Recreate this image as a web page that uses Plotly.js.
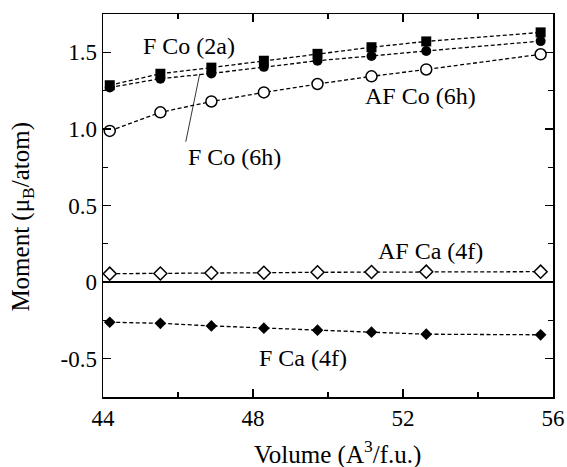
<!DOCTYPE html>
<html>
<head>
<meta charset="utf-8">
<script src="https://cdn.plot.ly/plotly-3.0.1.min.js"></script>
<style>html,body{margin:0;padding:0;background:#fff;}#chart{width:567px;height:467px;}</style>
</head>
<body>
<div id="chart"></div>
<script>
const volume = [44.18, 45.53, 46.89, 48.29, 49.72, 51.16, 52.62, 55.67];
const fCo2a  = [1.285, 1.36, 1.40, 1.445, 1.49, 1.533, 1.571, 1.63];
const fCo6h  = [1.27, 1.328, 1.362, 1.405, 1.445, 1.476, 1.509, 1.573];
const afCo6h = [0.987, 1.108, 1.179, 1.238, 1.293, 1.343, 1.388, 1.487];
const afCa4f = [0.055, 0.056, 0.059, 0.061, 0.064, 0.066, 0.068, 0.068];
const fCa4f  = [-0.262, -0.269, -0.286, -0.301, -0.314, -0.327, -0.34, -0.344];
const yTickVals = [-0.5, 0, 0.5, 1.0, 1.5];
const yTickText = ['-0.5', '0', '0.5', '1.0', '1.5'];
const xTickVals = [44, 48, 52, 56];
const xTickText = ['44', '48', '52', '56'];

const lineStyle = {color: '#000', width: 1.3, dash: '4px,2.5px'};
function tr(y, sym, size, open) {
  return {
    x: volume, y: y, type: 'scatter', mode: 'lines+markers',
    line: lineStyle,
    marker: {symbol: sym, size: size, color: open ? '#fff' : '#000',
             line: {color: '#000', width: open ? 1.5 : 0}},
    showlegend: false, cliponaxis: false
  };
}
const data = [
  tr(afCo6h, 'circle', 11, true),
  tr(fCo6h, 'circle', 10, false),
  tr(fCo2a, 'square', 10, false),
  tr(afCa4f, 'diamond', 10, true),
  tr(fCa4f, 'diamond', 9, false)
];
const fam = '"Liberation Serif", "Times New Roman", serif';
const font = {family: fam, color: '#000', size: 24};
const layout = {
  width: 567, height: 467,
  margin: {l: 103, r: 14, t: 14, b: 70},
  paper_bgcolor: '#fff', plot_bgcolor: '#fff',
  font: {family: fam, color: '#000', size: 23},
  xaxis: {
    range: [44, 56], tickmode: 'array', tickvals: xTickVals, ticktext: xTickText,
    ticks: 'inside', ticklen: 8, tickwidth: 1.2, tickcolor: '#000',
    minor: {tickmode: 'linear', tick0: 44, dtick: 2, ticks: 'inside', ticklen: 5, tickwidth: 1.2, tickcolor: '#000'},
    showline: true, linecolor: '#000', linewidth: 1.5, mirror: 'ticks',
    showgrid: false, zeroline: false,
    tickfont: {size: 23}
  },
  yaxis: {
    range: [-0.75, 1.75], tickmode: 'array', tickvals: yTickVals, ticktext: yTickText,
    ticks: 'inside', ticklen: 8, tickwidth: 1.2, tickcolor: '#000',
    minor: {tickmode: 'linear', tick0: -0.75, dtick: 0.25, ticks: 'inside', ticklen: 5, tickwidth: 1.2, tickcolor: '#000'},
    showline: true, linecolor: '#000', linewidth: 1.5, mirror: 'ticks',
    showgrid: false, zeroline: true, zerolinecolor: '#000', zerolinewidth: 1.8,
    tickfont: {size: 23}
  },
  annotations: [
    {xref: 'paper', yref: 'paper', x: 0.52, y: -0.145, text: 'Volume (A<sup>3</sup>/f.u.)',
     showarrow: false, xanchor: 'center', yanchor: 'middle', font: {family: fam, color: '#000', size: 25}},
    {xref: 'paper', yref: 'paper', x: -0.178, y: 0.4707, text: 'Moment (μ<sub>B</sub>/atom)', textangle: -90,
     showarrow: false, xanchor: 'center', yanchor: 'middle', font: {family: fam, color: '#000', size: 25}},
    {x: 46.3, y: 1.544, text: 'F Co (2a)', showarrow: false, font: font},
    {x: 52.47, y: 1.214, text: 'AF Co (6h)', showarrow: false, font: font},
    {x: 52.74, y: 0.206, text: 'AF Ca (4f)', showarrow: false, font: font},
    {x: 49.33, y: -0.495, text: 'F Ca (4f)', showarrow: false, font: font},
    {x: 46.58, y: 1.36, text: 'F Co (6h)', showarrow: true, arrowhead: 0, arrowwidth: 0.8,
     arrowcolor: '#000', ax: -14, ay: 68, xanchor: 'left', yanchor: 'top', font: font}
  ]
};
Plotly.newPlot('chart', data, layout, {displayModeBar: false, staticPlot: true});
</script>
</body>
</html>
